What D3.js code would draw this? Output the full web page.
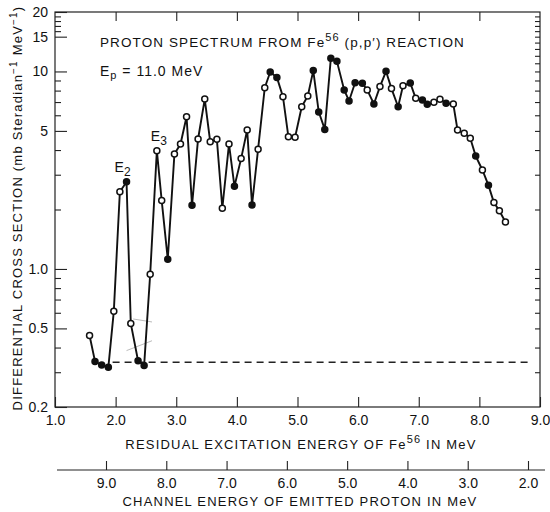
<!DOCTYPE html>
<html><head><meta charset="utf-8">
<script src="https://cdn.jsdelivr.net/npm/d3@7"></script>
<style>
body{margin:0;background:#fff;}
text{font-family:"Liberation Sans",Arial,sans-serif;fill:#111;}
</style></head>
<body><svg id="c" width="550" height="512"></svg>
<script>
// Excitation energy (MeV) of residual Fe56
const energy = [1.57,1.66,1.77,1.88,1.97,2.07,2.18,2.25,2.37,2.47,2.57,2.68,2.76,2.86,2.97,3.07,3.17,3.26,3.36,3.47,3.56,3.67,3.76,3.87,3.96,4.07,4.17,4.25,4.35,4.46,4.55,4.66,4.76,4.85,4.96,5.07,5.17,5.26,5.35,5.45,5.55,5.65,5.77,5.85,5.95,6.07,6.15,6.26,6.36,6.46,6.55,6.66,6.74,6.86,6.95,7.06,7.14,7.25,7.35,7.45,7.57,7.64,7.75,7.85,7.94,8.05,8.15,8.24,8.33,8.43];
// Differential cross section (mb sr^-1 MeV^-1)
const cross = [0.46,0.34,0.326,0.318,0.61,2.46,2.76,0.53,0.343,0.324,0.94,3.97,2.22,1.12,3.82,4.29,5.9,2.1,4.55,7.25,4.41,4.53,2.03,4.29,2.62,3.62,5.05,2.11,4.04,8.28,9.94,9.33,7.45,4.67,4.64,6.63,7.52,10.1,6.24,5.09,11.66,11.25,8.06,7.09,8.77,8.71,8.06,6.84,8.38,10.02,8.19,6.63,8.47,8.74,7.31,7.17,6.82,6.98,7.23,6.9,6.84,5.05,4.86,4.59,3.73,3.17,2.65,2.17,1.97,1.73];
// marker style: 1 = filled, 0 = open
const filled = [0,1,1,1,0,0,1,0,1,1,0,0,0,1,0,0,0,1,0,0,0,0,0,0,1,0,0,1,0,0,1,1,0,0,0,0,0,1,1,1,1,1,1,1,1,1,0,1,0,1,0,1,0,1,0,1,1,0,0,1,0,0,0,0,1,0,1,0,0,0];
// dashed background level
const background = {from:1.95, to:8.82, value:0.337};
// faint pencil guide strokes near the E2 dip
const guides = [{e1:2.29,v1:0.558,e2:2.60,v2:0.539},{e1:2.18,v1:0.386,e2:2.60,v2:0.433}];
// axis ticks
const xTicks = [1,2,3,4,5,6,7,8,9];
const xTickLabels = ["1.0","2.0","3.0","4.0","5.0","6.0","7.0","8.0","9.0"];
const yMajor = [0.2,0.5,1,5,10,15,20];
const yMajorLabels = ["0.2","0.5","1.0","5","10","15","20"];
const yMinorLeft = [0.3,0.4,0.6,0.7,0.8,0.9,2,3,4,6,7,8,9,16,17,18,19];
const yMinorRight = [0.3,0.4,0.5,0.6,0.7,0.8,0.9,1,2,3,4,5,6,7,8,9,10,11,12,13,14,15,16,17,18,19];
const chTicks = [9,8,7,6,5,4,3,2];
const chTickLabels = ["9.0","8.0","7.0","6.0","5.0","4.0","3.0","2.0"];
const peaks = [{e:2.18,v:2.76,label:"E",sub:"2",dx:-12},{e:2.68,v:3.97,label:"E",sub:"3",dx:-6}];

const svg = d3.select("#c");
const L=55,R=540,T=12,B=407;
const x = d3.scaleLinear().domain([1,9]).range([L,R]);
const y = d3.scaleLog().domain([0.2,20]).range([B,T]);
const ch = d3.scaleLinear().domain([9,2]).range([106,528]);

const g = svg.append("g");
// frame
g.append("rect").attr("x",L).attr("y",T).attr("width",R-L).attr("height",B-T)
 .attr("fill","none").attr("stroke","#222").attr("stroke-width",1.2);

// bottom x axis
const xb = g.append("g").attr("transform",`translate(0,${B})`)
 .call(d3.axisBottom(x).tickValues(xTicks).tickSize(-10).tickFormat((d,i)=>xTickLabels[i]).tickPadding(8));
xb.select(".domain").remove();
// top ticks
const xt = g.append("g").attr("transform",`translate(0,${T})`)
 .call(d3.axisTop(x).tickValues(xTicks.slice(1,-1)).tickSize(-9).tickFormat(""));
xt.select(".domain").remove();

// left y axis
const yl = g.append("g").attr("transform",`translate(${L},0)`)
 .call(d3.axisLeft(y).tickValues(yMajor).tickSize(-12).tickFormat((d,i)=>yMajorLabels[i]).tickPadding(7));
yl.select(".domain").remove();
const yl2 = g.append("g").attr("transform",`translate(${L},0)`)
 .call(d3.axisLeft(y).tickValues(yMinorLeft).tickSize(-6).tickFormat(""));
yl2.select(".domain").remove();
// right minor ticks
const yr = g.append("g").attr("transform",`translate(${R},0)`)
 .call(d3.axisRight(y).tickValues(yMinorRight).tickSize(-5).tickFormat(""));
yr.select(".domain").remove();

svg.selectAll(".tick line").attr("stroke","#222").attr("stroke-width",1.1);
svg.selectAll(".tick text").attr("font-size",14).attr("fill","#111")
 .style("font-family","'Liberation Sans',Arial,sans-serif");

// channel energy axis
const cg = g.append("g").attr("transform","translate(0,470)");
cg.append("line").attr("x1",57).attr("x2",545).attr("stroke","#222").attr("stroke-width",1.2);
cg.call(d3.axisBottom(ch).tickValues(chTicks).tickSize(-9).tickFormat((d,i)=>chTickLabels[i]).tickPadding(8));
cg.select(".domain").remove();
cg.selectAll(".tick line").attr("stroke","#222").attr("stroke-width",1.1);
cg.selectAll(".tick text").attr("font-size",14).attr("fill","#111");

// faint guides
g.selectAll("line.guide").data(guides).enter().append("line")
 .attr("x1",d=>x(d.e1)).attr("y1",d=>y(d.v1)).attr("x2",d=>x(d.e2)).attr("y2",d=>y(d.v2))
 .attr("stroke","#aaa").attr("stroke-width",0.8);

// dashed background
g.append("line").attr("x1",x(background.from)).attr("x2",x(background.to))
 .attr("y1",y(background.value)).attr("y2",y(background.value))
 .attr("stroke","#222").attr("stroke-width",1.6).attr("stroke-dasharray","7,5");

// data line
const pts = energy.map((e,i)=>({e,v:cross[i],f:filled[i]}));
g.append("path").datum(pts)
 .attr("d",d3.line().x(d=>x(d.e)).y(d=>y(d.v)))
 .attr("fill","none").attr("stroke","#111").attr("stroke-width",1.9);
g.selectAll("circle.pt").data(pts).enter().append("circle")
 .attr("cx",d=>x(d.e)).attr("cy",d=>y(d.v)).attr("r",3)
 .attr("fill",d=>d.f?"#111":"#fff").attr("stroke","#111").attr("stroke-width",1.5);

// peak labels
peaks.forEach(p=>{
  const t = g.append("text").attr("x",x(p.e)+p.dx).attr("y",y(p.v)-10).attr("font-size",14);
  t.append("tspan").text(p.label);
  t.append("tspan").attr("dy",4).attr("font-size",12).text(p.sub);
});

// title
const title = svg.append("text").attr("x",100).attr("y",47).attr("font-size",13.5).attr("letter-spacing",1.1);
title.append("tspan").text("PROTON SPECTRUM FROM Fe");
title.append("tspan").attr("dy",-6).attr("font-size",11).text("56");
title.append("tspan").attr("dy",6).text(" (p,p\u2032) REACTION");
const ep = svg.append("text").attr("x",100).attr("y",76).attr("font-size",14).attr("letter-spacing",1);
ep.append("tspan").text("E");
ep.append("tspan").attr("dy",3).attr("font-size",11).text("p");
ep.append("tspan").attr("dy",-3).text(" = 11.0 MeV");

// y label
const yt = svg.append("text").attr("transform","translate(22,208) rotate(-90)")
 .attr("text-anchor","middle").attr("font-size",13).attr("letter-spacing",1.2);
yt.append("tspan").text("DIFFERENTIAL CROSS SECTION (mb  Steradian");
yt.append("tspan").attr("dy",-5).attr("font-size",10).text("\u22121");
yt.append("tspan").attr("dy",5).text(" MeV");
yt.append("tspan").attr("dy",-5).attr("font-size",10).text("\u22121");
yt.append("tspan").attr("dy",5).text(")");

// x labels
const xl = svg.append("text").attr("x",301).attr("y",449).attr("text-anchor","middle")
 .attr("font-size",13).attr("letter-spacing",1.2);
xl.append("tspan").text("RESIDUAL EXCITATION ENERGY OF Fe");
xl.append("tspan").attr("dy",-6).attr("font-size",11).text("56");
xl.append("tspan").attr("dy",6).text(" IN MeV");
svg.append("text").attr("x",300).attr("y",506).attr("text-anchor","middle")
 .attr("font-size",13).attr("letter-spacing",1.2).text("CHANNEL ENERGY OF EMITTED PROTON IN MeV");
</script></body></html>
